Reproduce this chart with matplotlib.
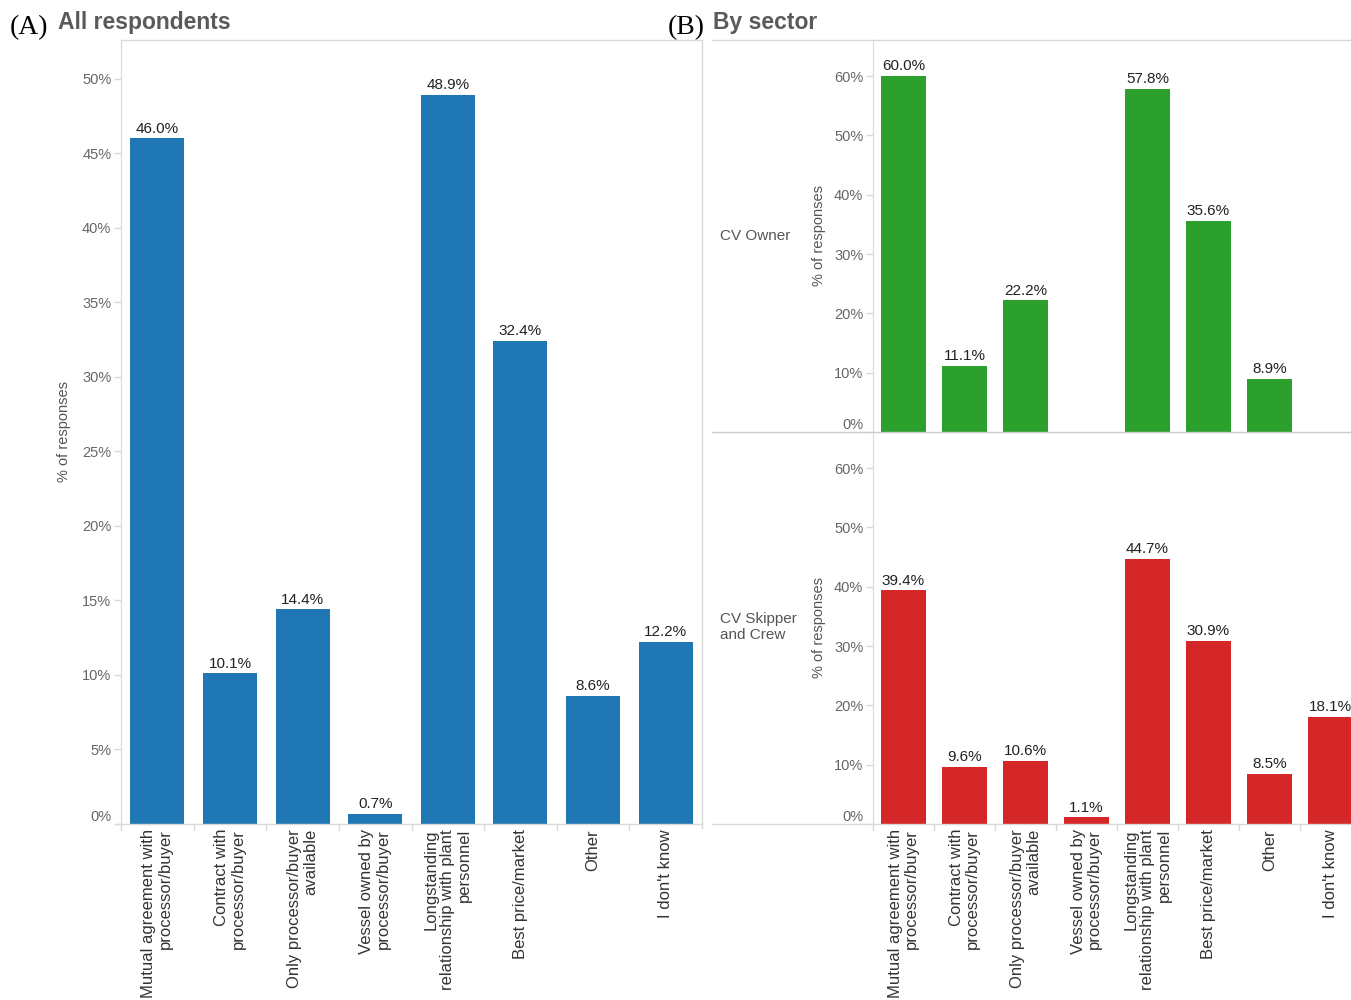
import numpy as np
import matplotlib
matplotlib.use("Agg")
import matplotlib.pyplot as plt
from matplotlib.lines import Line2D

# -------------------------------
# Data
# -------------------------------
categories = [
    "Mutual agreement with\nprocessor/buyer",
    "Contract with\nprocessor/buyer",
    "Only processor/buyer\navailable",
    "Vessel owned by\nprocessor/buyer",
    "Longstanding\nrelationship with plant\npersonnel",
    "Best price/market",
    "Other",
    "I don't know",
]
all_respondents = [46.0, 10.1, 14.4, 0.7, 48.9, 32.4, 8.6, 12.2]
cv_owner = [60.0, 11.1, 22.2, np.nan, 57.8, 35.6, 8.9, np.nan]
cv_skipper_crew = [39.4, 9.6, 10.6, 1.1, 44.7, 30.9, 8.5, 18.1]

ticks_a = [0, 5, 10, 15, 20, 25, 30, 35, 40, 45, 50]
ticks_b = [0, 10, 20, 30, 40, 50, 60]

BLUE = "#1f77b4"
GREEN = "#2ca02c"
RED = "#d62728"
BORDER = "#d9d9d9"
TICKCOL = "#666666"
LABELCOL = "#555555"

plt.rcParams["font.family"] = ["Liberation Sans", "DejaVu Sans"]

W, H = 1351, 1000
fig = plt.figure(figsize=(W / 100, H / 100), dpi=100)


def rect(x0, y0, x1, y1):
    # pixel box -> figure fraction [left, bottom, width, height]
    return [x0 / W, 1 - y1 / H, (x1 - x0) / W, (y1 - y0) / H]


def fline(x0, y0, x1, y1, color=BORDER, lw=1.0):
    fig.add_artist(Line2D([x0 / W, x1 / W], [1 - y0 / H, 1 - y1 / H],
                          transform=fig.transFigure, color=color, lw=lw))


def style_axes(ax, ticks, ymax, xmax):
    ax.set_xlim(-0.5, xmax)
    ax.set_ylim(0, ymax)
    for s in ax.spines.values():
        s.set_visible(False)
    ax.spines["left"].set_visible(True)
    ax.spines["left"].set_color(BORDER)
    ax.set_yticks(ticks)
    ax.set_yticklabels([f"{t}%" for t in ticks])
    ax.tick_params(axis="y", colors=BORDER, labelcolor=TICKCOL,
                   labelsize=10.5, length=5, width=1, pad=2)
    ax.get_yticklabels()[0].set_va("bottom")
    ax.set_xticks([])
    ax.patch.set_alpha(0)


def draw_bars(ax, values, color, width):
    x = np.arange(len(values))
    vals = np.array(values, dtype=float)
    ok = ~np.isnan(vals)
    ax.bar(x[ok], vals[ok], width=width, color=color, edgecolor="none")
    for xi, v in zip(x[ok], vals[ok]):
        ax.annotate(f"{v:.1f}%", (xi, v), xytext=(0, 2), textcoords="offset points",
                    ha="center", va="bottom", fontsize=11, color="#222222")


def cat_labels(ax, ypix_offset=5):
    for i, c in enumerate(categories):
        ax.annotate(c, (i, 0), xytext=(0, -ypix_offset), textcoords="offset pixels",
                    rotation=90, ha="center", va="top", multialignment="right",
                    fontsize=12, color="#333333", linespacing=1.15,
                    annotation_clip=False)


def slot_ticks(ax, n, ypix):
    for i in range(n):
        xs = ax.transData.transform((i - 0.5, 0))[0]
        fline(xs, ypix, xs, ypix + 6)


# -------------------------------
# Panel A
# -------------------------------
axA = fig.add_axes(rect(121, 40, 702, 824))
style_axes(axA, ticks_a, 52.6, 7.5)
draw_bars(axA, all_respondents, BLUE, 0.745)
axA.set_ylabel("% of responses", color=LABELCOL, fontsize=10.5, labelpad=8)
cat_labels(axA)

fline(121, 40, 702, 40)
fline(702, 40, 702, 828)
fline(118, 824, 702, 824)
slot_ticks(axA, 8, 824)

fig.text(10 / W, 1 - 34 / H, "(A)", family="Liberation Serif", fontsize=20,
         color="black", ha="left", va="baseline")
fig.text(58 / W, 1 - 29 / H, "All respondents", fontsize=16.5, fontweight="bold",
         color="#5a5a5a", ha="left", va="baseline")

# -------------------------------
# Panel B
# -------------------------------
xmax_b = -0.5 + (1351 - 873) / 61.0
axB1 = fig.add_axes(rect(873, 40, 1351, 432))
style_axes(axB1, ticks_b, 66.1, xmax_b)
draw_bars(axB1, cv_owner, GREEN, 0.75)
axB1.set_ylabel("% of responses", color=LABELCOL, fontsize=10.5, labelpad=6)

axB2 = fig.add_axes(rect(873, 432, 1351, 824))
style_axes(axB2, ticks_b, 66.1, xmax_b)
draw_bars(axB2, cv_skipper_crew, RED, 0.75)
axB2.set_ylabel("% of responses", color=LABELCOL, fontsize=10.5, labelpad=6)
cat_labels(axB2)

fline(712, 40, 1351, 40)
fline(712, 432, 1351, 432, color="#cccccc")
fline(712, 824, 1351, 824)
slot_ticks(axB2, 8, 824)

fig.text(720 / W, 1 - 236 / H, "CV Owner", fontsize=11, color=LABELCOL,
         ha="left", va="center")
fig.text(720 / W, 1 - 627 / H, "CV Skipper\nand Crew", fontsize=11, color=LABELCOL,
         ha="left", va="center", linespacing=1.2)

fig.text(668 / W, 1 - 34 / H, "(B)", family="Liberation Serif", fontsize=20,
         color="black", ha="left", va="baseline")
fig.text(713 / W, 1 - 29 / H, "By sector", fontsize=16.5, fontweight="bold",
         color="#5a5a5a", ha="left", va="baseline")

fig.savefig("out.png", dpi=100)
